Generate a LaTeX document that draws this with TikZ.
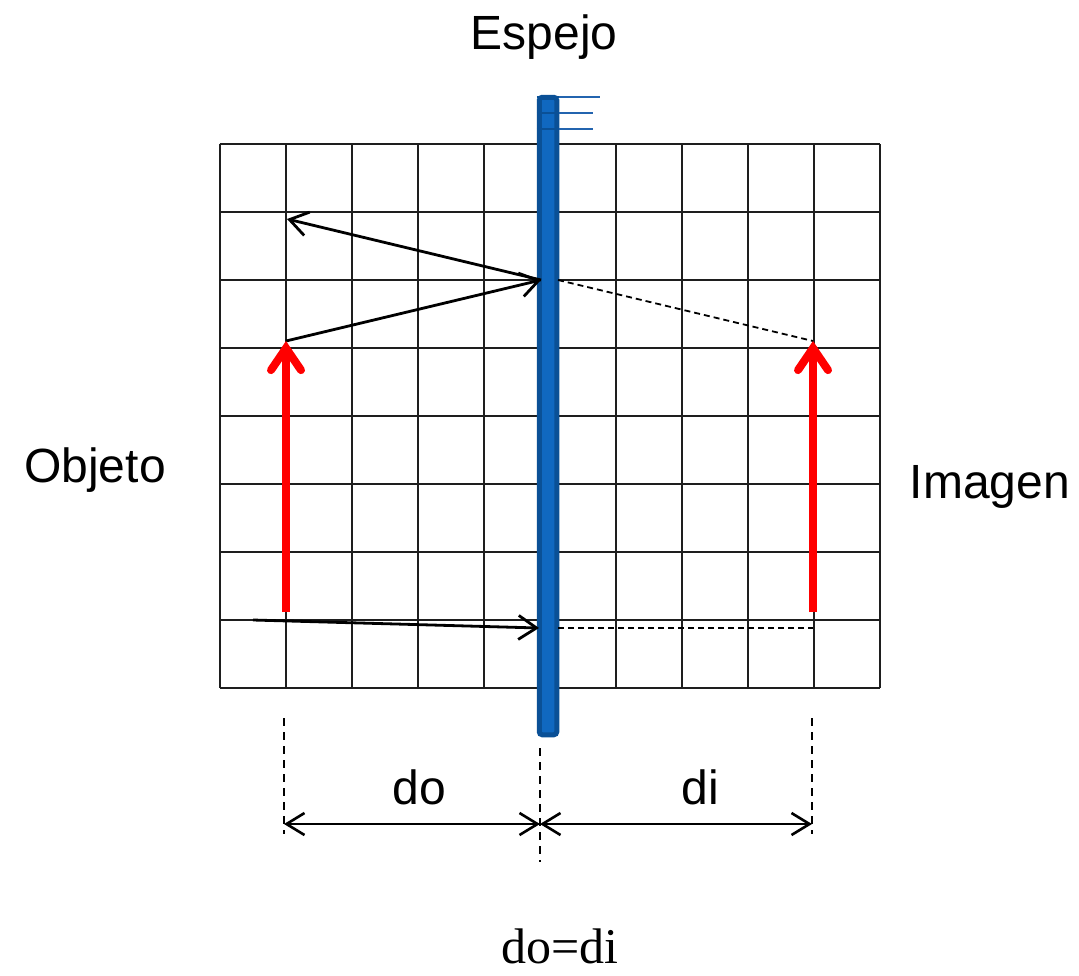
\documentclass[tikz,border=0pt]{standalone}
\usepackage{fontspec}
\setmainfont{Liberation Sans}
\newfontfamily\eqfont{Liberation Serif}
\usetikzlibrary{arrows.meta,positioning}
\definecolor{mirrorblue}{RGB}{16,104,192}
\definecolor{mirrordark}{RGB}{10,80,150}
\definecolor{hatch}{RGB}{35,100,175}
\definecolor{ink}{RGB}{30,30,30}
\tikzset{
  gridline/.style={draw=ink,line width=1pt},
  ray/.style={draw=black,line width=1.4pt,-{Straight Barb[length=9pt,width=12pt]}},
  virtual/.style={draw=black,line width=0.9pt,dash pattern=on 3pt off 2pt},
  redarrow/.style={draw=red,line width=4pt,-{Straight Barb[length=11pt,width=15pt,line cap=round]}},
  guide/.style={draw=black,line width=0.8pt,dash pattern=on 4pt off 3pt},
  dimline/.style={draw=black,line width=1.3pt,{Straight Barb[length=9pt,width=11pt]}-{Straight Barb[length=9pt,width=11pt]}},
  lbl/.style={font=\fontsize{24}{28}\selectfont,inner sep=0pt},
  mirror/.style={fill=mirrorblue,draw=mirrordark,line width=2.5pt,rounded corners=1.5pt,
    inner sep=0pt,minimum width=8.75pt,minimum height=318.75pt},
  hatchline/.style={draw=hatch,line width=1pt},
}
\begin{document}
\begin{tikzpicture}[x=0.5pt,y=-0.5pt]
  \useasboundingbox[fill=white] (0,0) rectangle (1079,975);
  % grid
  \foreach \i in {0,...,10}
    \draw[gridline] ({219.5+66*\i},144) -- ({219.5+66*\i},688);
  \foreach \j in {0,...,8}
    \draw[gridline] (219.5,{144+68*\j}) -- (879.5,{144+68*\j});
  % mirror
  \node[mirror] (mirror) at (548,416) {};
  \foreach \y/\l [count=\k] in {96.5/600,113/593,129/593} {
    \draw[hatchline,draw=mirrordark] (mirror.west |- 0,\y) -- (mirror.east |- 0,\y) coordinate (h\k);
    \draw[hatchline] (h\k) -- (\l,\y);
  }
  % points
  \coordinate (objtop) at (286,341);
  \coordinate (objbase) at (286,612);
  \coordinate (imgtop) at (813,341);
  \coordinate (imgbase) at (813,612);
  \coordinate (hitA) at (541,280);
  \coordinate (eyeA) at (287,219);
  \coordinate (virtA) at (558,280);
  \coordinate (srcB) at (253,620);
  \coordinate (hitB) at (539,628);
  \coordinate (virtB) at (558,628);
  % rays
  \draw[ray] (objtop) -- (hitA);
  \draw[ray] (hitA) -- (eyeA);
  \draw[virtual] (virtA) -- (imgtop);
  \draw[ray] (srcB) -- (hitB);
  \draw[virtual] (virtB) -- (imgbase |- virtB);
  % object and image
  \draw[redarrow] (objbase) -- (objtop);
  \draw[redarrow] (imgbase) -- (imgtop);
  % distances
  \coordinate (gL) at (284,718);
  \coordinate (gM) at (540,748);
  \coordinate (gR) at (812,718);
  \draw[guide] (gL) -- ++(0,116);
  \draw[guide] (gM) -- ++(0,114);
  \draw[guide] (gR) -- ++(0,116);
  \coordinate (dL) at (284,824);
  \coordinate (dM) at (540,824);
  \coordinate (dR) at (812,824);
  \draw[dimline] (dL) -- (dM);
  \draw[dimline] (dM) -- (dR);
  % labels
  \node[lbl] (espejo) at (544,37) {Espejo};
  \node[lbl] (objeto) at (95,470) {Objeto};
  \node[lbl] (imagen) at (990,487) {Imagen};
  \node[lbl] (dobj) at (419,787) {do};
  \node[lbl] (dimg) at (700,787) {di};
  \node[font=\eqfont\fontsize{25}{30}\selectfont,inner sep=0pt] (equal) at (560,946) {do=di};
\end{tikzpicture}
\end{document}
